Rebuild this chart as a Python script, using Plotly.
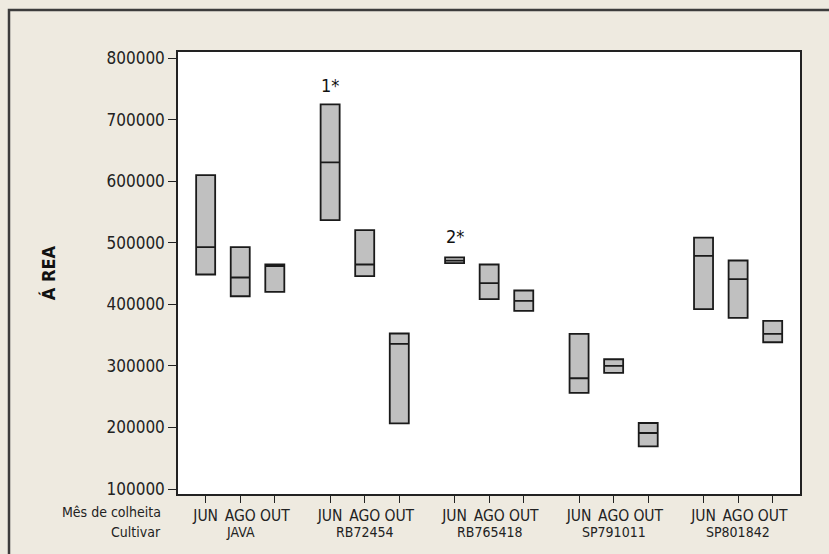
import plotly.graph_objects as go

months = ["JUN", "AGO", "OUT"]
cultivars = ["JAVA", "RB72454", "RB765418", "SP791011", "SP801842"]

# per box, order: cultivar-major, month-minor
q1 =     [448600, 413300, 420300, 536900, 445900, 206800, 467000, 408500, 389400, 256100, 288600, 169400, 392200, 378000, 338500]
median = [493000, 443700, 462400, 630700, 464900, 335800, 471000, 434500, 405700, 280000, 300000, 191000, 478900, 441000, 352000]
q3 =     [610100, 493000, 464900, 725000, 520700, 352700, 476300, 464900, 422600, 352000, 310900, 207300, 508500, 471400, 373200]

outlier_labels = ["1*", "2*"]
outlier_cultivar = ["RB72454", "RB765418"]
outlier_month = ["JUN", "JUN"]
outlier_label_y = [755000, 511000]

GROUP_PITCH = 3.6
FONT = "DejaVu Sans Condensed, DejaVu Sans"

xpos = []
ticktext = []
for g, c in enumerate(cultivars):
    for i, m in enumerate(months):
        xpos.append(g * GROUP_PITCH + i)
        ticktext.append(m)

fig = go.Figure()
fig.add_trace(go.Box(
    x=xpos, q1=q1, median=median, q3=q3,
    lowerfence=q1, upperfence=q3,
    width=0.55,
    fillcolor="#C0C0C0",
    line=dict(color="#1a1a1a", width=1.8),
    boxpoints=False,
    whiskerwidth=0,
    showlegend=False,
))

for lab, c, m, y in zip(outlier_labels, outlier_cultivar, outlier_month, outlier_label_y):
    x = cultivars.index(c) * GROUP_PITCH + months.index(m)
    fig.add_annotation(x=x, y=y, text=lab, showarrow=False,
                       font=dict(family=FONT, size=18, color="#111"),
                       xanchor="center", yanchor="middle")

for g, c in enumerate(cultivars):
    fig.add_annotation(x=g * GROUP_PITCH + 1, xref="x", y=-0.085, yref="paper",
                       text=c, showarrow=False, xanchor="center", yanchor="middle",
                       font=dict(family=FONT, size=14, color="#222"))

fig.add_annotation(x=-0.0246, xref="paper", y=-0.04, yref="paper", text="Mês de colheita",
                   showarrow=False, xanchor="right", yanchor="middle",
                   font=dict(family=FONT, size=14, color="#222"))
fig.add_annotation(x=-0.0246, xref="paper", y=-0.085, yref="paper", text="Cultivar",
                   showarrow=False, xanchor="right", yanchor="middle",
                   font=dict(family=FONT, size=14, color="#222"))

# outer frame
fig.add_shape(type="rect", xref="paper", yref="paper",
              x0=-169/622, x1=1.3, y0=-0.3, y1=(494-10)/442,
              line=dict(color="#3c3c3c", width=2.5), fillcolor="rgba(0,0,0,0)", layer="below")

fig.update_layout(
    width=829, height=554,
    margin=dict(l=178, r=29, t=52, b=60),
    paper_bgcolor="#EEEAE0",
    plot_bgcolor="white",
    font=dict(family=FONT, color="#222"),
)
fig.update_xaxes(
    range=[-0.80, 17.19],
    tickvals=xpos, ticktext=ticktext,
    ticks="outside", ticklen=7, tickcolor="#222", tickwidth=1.2,
    showline=True, linecolor="#222", linewidth=1.5, mirror=True,
    showgrid=False, zeroline=False,
    tickfont=dict(family=FONT, size=15.5, color="#222"),
)
fig.update_yaxes(
    range=[91900, 810200],
    tickvals=[100000, 200000, 300000, 400000, 500000, 600000, 700000, 800000],
    ticktext=["100000", "200000", "300000", "400000", "500000", "600000", "700000", "800000"],
    ticks="outside", ticklen=8, tickcolor="#222", tickwidth=1.2,
    showline=True, linecolor="#222", linewidth=1.5, mirror=True,
    showgrid=False, zeroline=False,
    tickfont=dict(family=FONT, size=17, color="#222"),
    title=dict(text="<b>Á REA</b>", font=dict(family=FONT, size=18, color="#111"), standoff=46),
)

fig.write_html("out.html")
